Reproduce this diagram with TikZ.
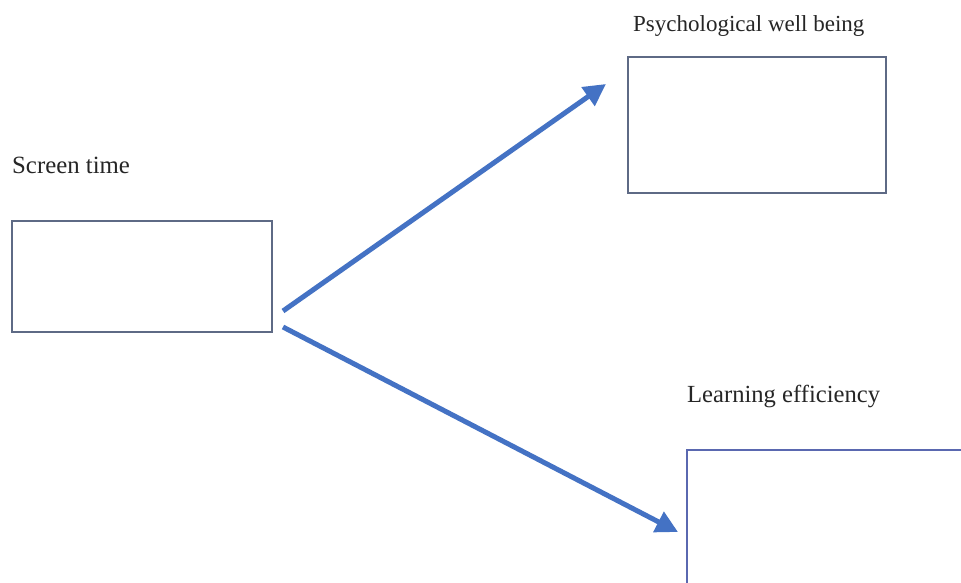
\documentclass[tikz,border=0pt]{standalone}
\usepackage{fontspec}
\setmainfont{Liberation Serif}
\usetikzlibrary{arrows.meta}
\definecolor{arrowblue}{HTML}{4472C4}
\definecolor{boxgray}{HTML}{5E6A85}
\definecolor{boxblue}{HTML}{5A68B0}
\begin{document}
\begin{tikzpicture}[x=1pt,y=-1pt,
  box/.style={draw=boxgray,line width=1.5pt,fill=white,inner sep=0pt,outer sep=0pt},
  lbl/.style={anchor=base west,inner sep=0pt,text=black!85},
  conn/.style={draw=arrowblue,line width=5pt,-{Triangle[length=22pt,width=22pt]}}]
\useasboundingbox (0,0) rectangle (961,582);
\clip (0,0) rectangle (961,582);
\fill[white] (0,0) rectangle (961,582);
% boxes
\node[box,minimum width=260pt,minimum height=111pt] (screen) at (142,276.5) {};
\node[box,minimum width=258pt,minimum height=136pt] (psych) at (757,125) {};
\node[box,draw=boxblue,minimum width=300pt,minimum height=160pt] (learn) at (837,530) {};
% labels
\node[lbl,font=\fontsize{24.8}{30}\selectfont] (tscreen) at (12,173) {Screen time};
\node[lbl,font=\fontsize{23}{28}\selectfont] (tpsych) at (633,31) {Psychological well being};
\node[lbl,font=\fontsize{24.6}{30}\selectfont] (tlearn) at (687,402) {Learning efficiency};
% connectors
\coordinate (s1) at (283,311);
\coordinate (s2) at (283,327);
\coordinate (e1) at (606,84);
\coordinate (e2) at (678,532);
\draw[conn] (s1) -- (e1);
\draw[conn] (s2) -- (e2);
\end{tikzpicture}
\end{document}
